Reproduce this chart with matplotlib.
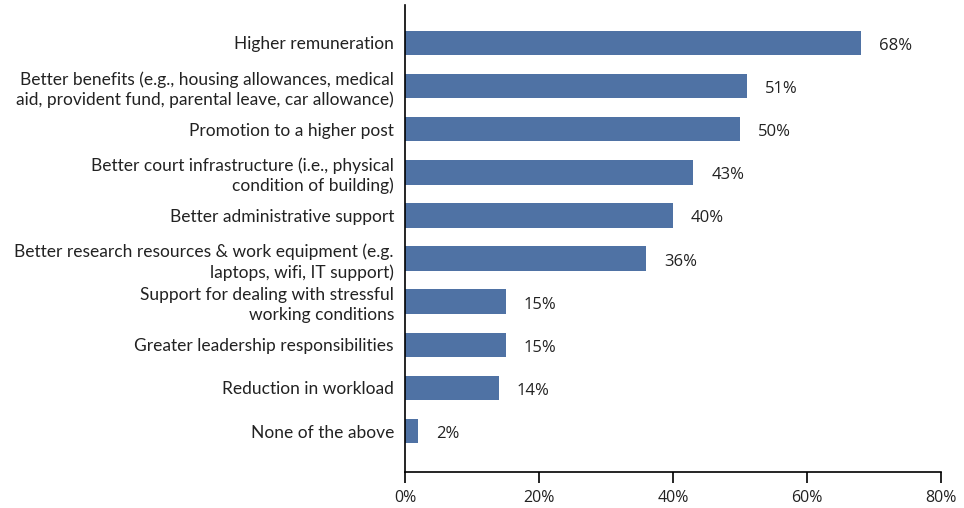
import matplotlib
matplotlib.use("Agg")
import matplotlib.pyplot as plt
from matplotlib.ticker import FuncFormatter

categories = [
    "Higher remuneration",
    "Better benefits (e.g., housing allowances, medical\naid, provident fund, parental leave, car allowance)",
    "Promotion to a higher post",
    "Better court infrastructure (i.e., physical\ncondition of building)",
    "Better administrative support",
    "Better research resources & work equipment (e.g.\nlaptops, wifi, IT support)",
    "Support for dealing with stressful\nworking conditions",
    "Greater leadership responsibilities",
    "Reduction in workload",
    "None of the above",
]
values = [68, 51, 50, 43, 40, 36, 15, 15, 14, 2]
x_ticks = [0, 20, 40, 60, 80]

bar_color = "#4F72A4"
text_color = "#222222"

fig = plt.figure(figsize=(9.64, 5.08), dpi=100)
ax = fig.add_axes([405 / 964, 1 - 472 / 508, 536 / 964, 467 / 508])

pos = list(range(len(categories)))
ax.barh(pos, values, height=0.57, color=bar_color)

# value labels to the right of each bar
for p, v in zip(pos, values):
    ax.text(v + 2.7, p + 0.07, f"{v}%", va="center", ha="left",
            fontsize=12, family="Open Sans", color=text_color)

ax.set_ylim(9.95, -0.88)
ax.set_xlim(0, 80)
ax.set_xticks(x_ticks)
ax.xaxis.set_major_formatter(FuncFormatter(lambda x, _: f"{x:.0f}%"))
ax.set_yticks(pos)
ax.set_yticklabels(categories, fontsize=12.5, family="Lato", color=text_color,
                   linespacing=1.3)
ax.tick_params(axis="y", length=0, pad=8)
ax.tick_params(axis="x", length=8, width=1.2, color="black", pad=5,
               labelsize=11.5, labelcolor=text_color)
for lbl in ax.get_xticklabels():
    lbl.set_family("Open Sans")

ax.spines["top"].set_visible(False)
ax.spines["right"].set_visible(False)
ax.spines["left"].set_linewidth(1.2)
ax.spines["bottom"].set_linewidth(1.2)

fig.savefig("out.png", dpi=100)
